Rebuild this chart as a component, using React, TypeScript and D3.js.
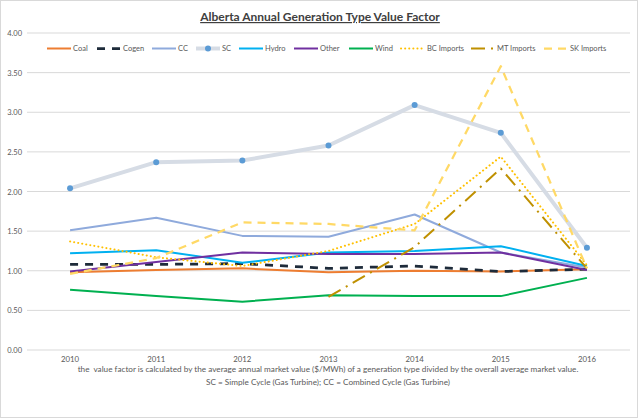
import React from "react";
import * as d3 from "d3";

const years = ["2010", "2011", "2012", "2013", "2014", "2015", "2016"];
const yTicks = [0, 0.5, 1, 1.5, 2, 2.5, 3, 3.5, 4];

const coal = [0.98, 1.01, 1.03, 0.98, 1.0, 0.99, 1.02];
const cogen = [1.08, 1.08, 1.09, 1.03, 1.06, 0.99, 1.02];
const cc = [1.51, 1.67, 1.44, 1.43, 1.71, 1.23, 1.04];
const sc = [2.04, 2.37, 2.39, 2.58, 3.09, 2.74, 1.29];
const hydro = [1.22, 1.26, 1.1, 1.23, 1.25, 1.31, 1.06];
const other = [0.99, 1.11, 1.23, 1.21, 1.21, 1.23, 1.01];
const wind = [0.76, 0.68, 0.61, 0.69, 0.68, 0.68, 0.91];
const bcImports = [1.37, 1.17, 1.06, 1.25, 1.59, 2.44, 1.07];
const mtImports: (number | null)[] = [null, null, null, 0.67, 1.3, 2.29, 1.03];
const skImports = [0.96, 1.16, 1.61, 1.59, 1.51, 3.58, 1.03];

const seriesNames = ["Coal", "Cogen", "CC", "SC", "Hydro", "Other", "Wind", "BC Imports", "MT Imports", "SK Imports"];
const seriesValues = [coal, cogen, cc, sc, hydro, other, wind, bcImports, mtImports, skImports];

type Style = { color: string; width: number; dash?: string; cap?: string; marker?: boolean };
const styles: Style[] = [
  { color: "#ed7d31", width: 2 },
  { color: "#1e2b3a", width: 2.75, dash: "8,7" },
  { color: "#8faadc", width: 2 },
  { color: "#d6dce5", width: 4, marker: true },
  { color: "#00b0f0", width: 2 },
  { color: "#7030a0", width: 2 },
  { color: "#00b050", width: 2 },
  { color: "#ffc000", width: 2, dash: "0.1,4", cap: "round" },
  { color: "#bf9000", width: 2, dash: "14,6,2,6" },
  { color: "#ffd966", width: 2.25, dash: "8,6" },
];
const legendX = [47, 97, 152, 196, 239, 294, 349, 401, 471, 544];

const FONT = "Lato, 'Open Sans', sans-serif";

export default function App() {
  const W = 640, H = 419;
  const left = 27, right = 630;
  const x = d3.scaleBand<string>().domain(years).range([left, right]);
  const y = d3.scaleLinear().domain([0, 4]).range([350, 33]);
  const cx = (yr: string) => (x(yr) as number) + x.bandwidth() / 2;
  const line = d3
    .line<number | null>()
    .defined((d) => d != null)
    .x((_, i) => cx(years[i]))
    .y((d) => y(d as number));

  return (
    <svg width={W} height={H} style={{ position: "absolute", left: 0, top: 0, background: "#fff" }} fontFamily={FONT}>
      <rect x={0.5} y={0.5} width={W - 3} height={H - 2} fill="#fff" stroke="#d9d9d9" />
      <text x={320} y={21} textAnchor="middle" fontSize={12} fontWeight="bold" fill="#404040" textDecoration="underline">
        Alberta Annual Generation Type Value Factor
      </text>
      {yTicks.map((t) => (
        <g key={t}>
          <line x1={left} x2={right} y1={y(t)} y2={y(t)} stroke="#d9d9d9" strokeWidth={1} />
          <text x={22} y={y(t) + 3} textAnchor="end" fontSize={7.5} fill="#595959">
            {t.toFixed(2)}
          </text>
        </g>
      ))}
      {years.map((yr) => (
        <text key={yr} x={cx(yr)} y={362} textAnchor="middle" fontSize={7.8} fill="#595959">
          {yr}
        </text>
      ))}
      {seriesValues.map((vals, i) => {
        const s = styles[i];
        return (
          <g key={seriesNames[i]}>
            <path
              d={line(vals) || ""}
              fill="none"
              stroke={s.color}
              strokeWidth={s.width}
              strokeDasharray={s.dash}
              strokeLinecap={(s.cap as any) || "butt"}
              strokeLinejoin="round"
            />
            {s.marker &&
              vals.map((v, j) =>
                v == null ? null : <circle key={j} cx={cx(years[j])} cy={y(v)} r={3} fill="#5b9bd5" />
              )}
          </g>
        );
      })}
      {seriesNames.map((name, i) => {
        const s = styles[i];
        const lx = legendX[i];
        const ly = 48.5;
        return (
          <g key={name}>
            <line
              x1={lx}
              x2={lx + 24}
              y1={ly}
              y2={ly}
              stroke={s.color}
              strokeWidth={s.width}
              strokeDasharray={s.dash}
              strokeLinecap={(s.cap as any) || "butt"}
            />
            {s.marker && <circle cx={lx + 12} cy={ly} r={3} fill="#5b9bd5" />}
            <text x={lx + 26} y={ly + 2.8} fontSize={7.5} fill="#595959">
              {name}
            </text>
          </g>
        );
      })}
      <text x={328} y={372} textAnchor="middle" fontSize={8.2} fill="#595959" style={{ whiteSpace: "pre" }}>
        {"the  value factor is calculated by the average annual market value ($/MWh) of a generation type divided by the overall average market value."}
      </text>
      <text x={328} y={385} textAnchor="middle" fontSize={8.2} fill="#595959">
        SC = Simple Cycle (Gas Turbine); CC = Combined Cycle (Gas Turbine)
      </text>
    </svg>
  );
}
